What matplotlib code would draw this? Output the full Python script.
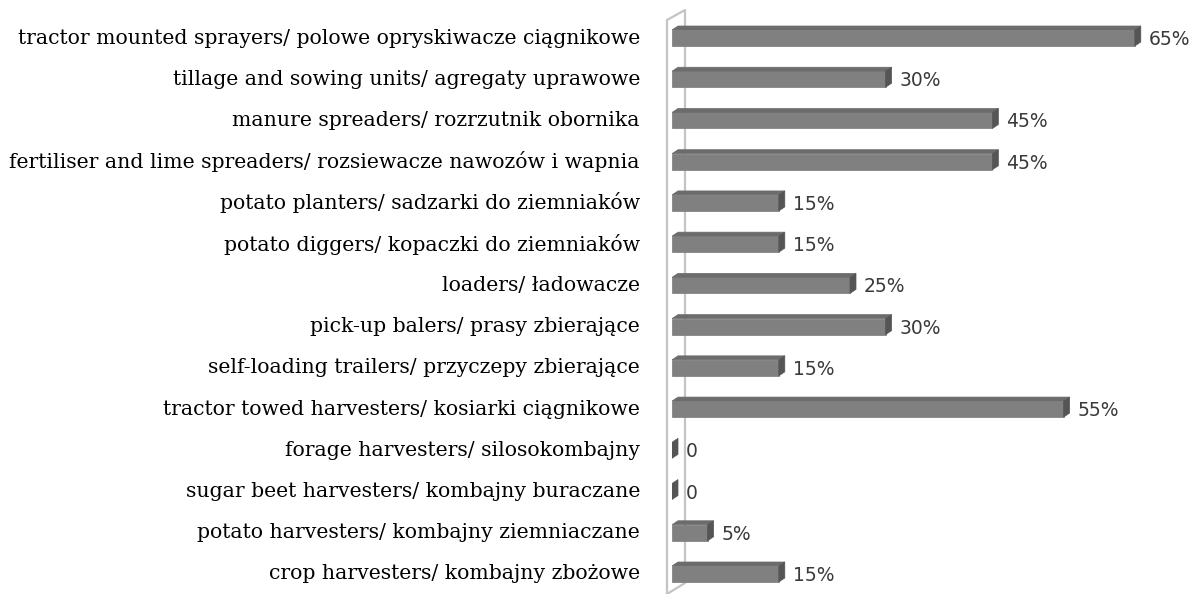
import matplotlib
matplotlib.use("Agg")
import matplotlib.pyplot as plt

categories = [
    "tractor mounted sprayers/ polowe opryskiwacze ciągnikowe",
    "tillage and sowing units/ agregaty uprawowe",
    "manure spreaders/ rozrzutnik obornika",
    "fertiliser and lime spreaders/ rozsiewacze nawozów i wapnia",
    "potato planters/ sadzarki do ziemniaków",
    "potato diggers/ kopaczki do ziemniaków",
    "loaders/ ładowacze",
    "pick-up balers/ prasy zbierające",
    "self-loading trailers/ przyczepy zbierające",
    "tractor towed harvesters/ kosiarki ciągnikowe",
    "forage harvesters/ silosokombajny",
    "sugar beet harvesters/ kombajny buraczane",
    "potato harvesters/ kombajny ziemniaczane",
    "crop harvesters/ kombajny zbożowe",
]
values = [65, 30, 45, 45, 15, 15, 25, 30, 15, 55, 0, 0, 5, 15]

W, H = 1202, 594
x0_px = 672          # pixel where 0 % sits
px_per_unit = 7.12   # pixels per percent
row0_px = 38         # centre of first row from top
row_px = 41.23       # row spacing

fig = plt.figure(figsize=(W / 100, H / 100), dpi=100)
ax = fig.add_axes([x0_px / W, 0, (W - x0_px) / W, 1])
ax.set_xlim(0, (W - x0_px) / px_per_unit)
ax.set_ylim((H - row0_px) / row_px, -row0_px / row_px)
ax.axis("off")


def px_x(p):
    return (p - x0_px) / px_per_unit


def px_y(p):
    return (p - row0_px) / row_px


# side wall (thin 3d panel behind the bars)
wall_x = [px_x(667), px_x(667), px_x(685), px_x(685), px_x(667)]
wall_y = [px_y(600), px_y(20), px_y(10), px_y(583), px_y(594)]
ax.plot(wall_x, wall_y, color="#c4c4c4", lw=1.6, zorder=1, clip_on=False)

dx = 6 / px_per_unit   # depth offset
dy = 4 / row_px
half = 8 / row_px      # half height of bar front

for i, v in enumerate(values):
    top, bot = i - half, i + half
    if v > 0:
        # front face
        ax.fill([0, v, v, 0], [bot, bot, top, top],
                color="#808080", ec="#7a7a7a", lw=0.5, zorder=3)
        # top face
        ax.fill([0, v, v + dx, dx], [top, top, top - dy, top - dy],
                color="#6c6c6c", ec="#6c6c6c", lw=0.5, zorder=3)
    # right face
    ax.fill([v, v + dx, v + dx, v], [bot, bot - dy, top - dy, top],
            color="#555555", ec="#555555", lw=0.5, zorder=4)
    label = f"{v}%" if v > 0 else "0"
    ax.text(v + 14 / px_per_unit, i + 1.5 / row_px, label,
            va="center", ha="left", fontsize=13.5, color="#3a3a3a",
            family="DejaVu Sans")

for i, name in enumerate(categories):
    ax.text(px_x(640), i, name, va="center", ha="right",
            fontsize=14.7, color="black", family="DejaVu Serif")

fig.savefig("out.png", dpi=100)
